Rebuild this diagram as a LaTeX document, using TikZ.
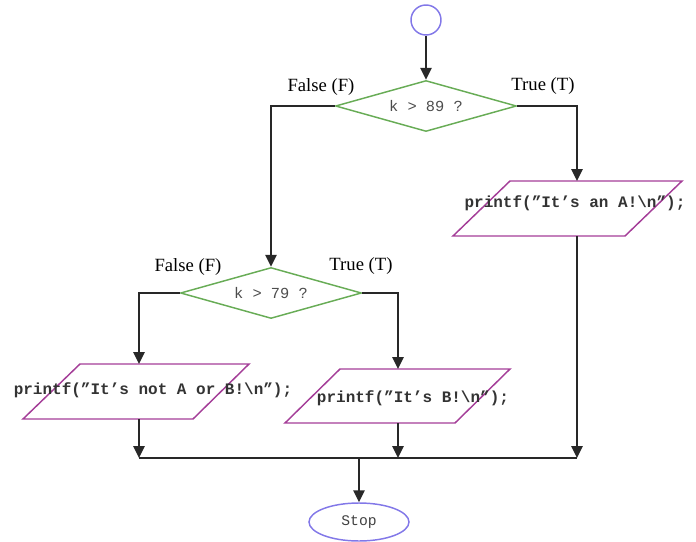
\documentclass[tikz,border=0pt]{standalone}
\usepackage{fontspec}
\setmainfont{Liberation Serif}
\newfontfamily\codefont{Liberation Mono}
\usetikzlibrary{arrows.meta,shapes.geometric}
\definecolor{startblue}{RGB}{130,120,232}
\definecolor{decgreen}{RGB}{104,172,86}
\definecolor{iopurple}{RGB}{164,62,152}
\definecolor{linegray}{RGB}{40,40,40}
\tikzset{
  conn/.style={draw=linegray, line width=1.2pt},
  arrowconn/.style={conn, -{Triangle[length=9pt,width=8.5pt]}},
  decision/.style={diamond, draw=decgreen, line width=1.1pt, aspect=3.55, inner sep=0pt,
    minimum width=135.75pt, minimum height=38.25pt, font=\codefont\fontsize{11.5}{13}\selectfont, text=black!70},
  iobox/.style={draw=iopurple, line width=1.1pt},
  codetext/.style={font=\codefont\bfseries\fontsize{12}{14}\selectfont, text=black!80, inner sep=0pt},
  branchlabel/.style={font=\fontsize{14}{16}\selectfont, inner sep=0pt},
  terminal/.style={draw=startblue, line width=1.1pt}
}
\begin{document}
\begin{tikzpicture}[x=0.75pt,y=-0.75pt]
\useasboundingbox (0,0) rectangle (696,542);
% start
\node[circle, terminal, minimum size=22.5pt, inner sep=0pt] (start) at (426,20) {};
% decisions
\node[decision] (d1) at (426,106) {k > 89 ?};
\node[decision] (d2) at (271,293) {k > 79 ?};
% branch labels
\node[branchlabel] (f1) at (321,87) {False (F)};
\node[branchlabel] (t1) at (543,86) {True (T)};
\node[branchlabel] (f2) at (188,267) {False (F)};
\node[branchlabel] (t2) at (361,266) {True (T)};
% parallelogram A
\draw[iobox] (510,181) -- (682,181) -- (625,236) -- (453,236) -- cycle;
\coordinate (pAtop) at (577,181);
\coordinate (pAbot) at (577,236);
\node[codetext] (tA) at (575,203) {printf(”It’s an A!\textbackslash n”);};
% parallelogram not A or B
\draw[iobox] (80,364) -- (249,364) -- (193,419) -- (23,419) -- cycle;
\coordinate (pNtop) at (139,364);
\coordinate (pNbot) at (139,419);
\node[codetext] (tN) at (153,390) {printf(”It’s not A or B!\textbackslash n”);};
% parallelogram B
\draw[iobox] (340,369) -- (510,369) -- (455,423) -- (285,423) -- cycle;
\coordinate (pBtop) at (398,369);
\coordinate (pBbot) at (398,423);
\node[codetext] (tB) at (413,398) {printf(”It’s B!\textbackslash n”);};
% merge
\coordinate (mL) at (139,458);
\coordinate (mB) at (398,458);
\coordinate (mR) at (577,458);
\coordinate (mS) at (359,458);
% stop
\node[ellipse, terminal, minimum width=75pt, minimum height=28.5pt, inner sep=0pt,
  font=\codefont\fontsize{11}{13}\selectfont, text=black!75] (stop) at (359,522) {Stop};
% connectors
\draw[arrowconn] (start) -- (d1.north);
\draw[arrowconn] (d1.west) -| (d2.north);
\draw[arrowconn] (d1.east) -| (pAtop);
\draw[arrowconn] (d2.west) -| (pNtop);
\draw[arrowconn] (d2.east) -| (pBtop);
\draw[arrowconn] (pAbot) -- (mR);
\draw[arrowconn] (pNbot) -- (mL);
\draw[arrowconn] (pBbot) -- (mB);
\draw[conn] (mL) -- (mR);
\draw[arrowconn] (mS) -- (stop.north);
\end{tikzpicture}
\end{document}
